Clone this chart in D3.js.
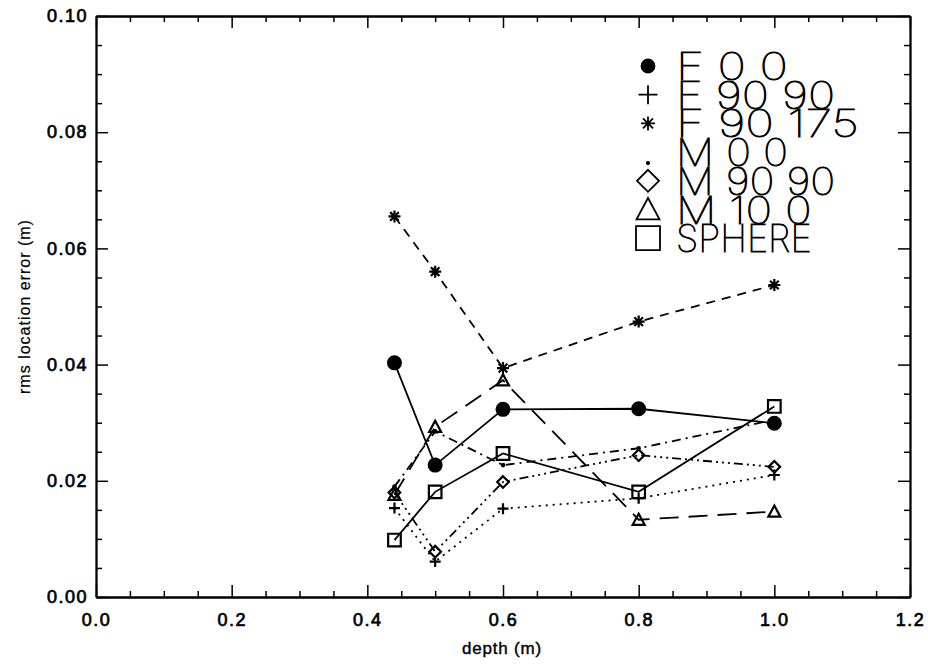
<!DOCTYPE html>
<html>
<head>
<meta charset="utf-8">
<script src="https://cdn.jsdelivr.net/npm/d3@7"></script>
<style>
  html, body { margin: 0; padding: 0; background: #fff; }
  svg { display: block; }
</style>
</head>
<body>
<svg id="chart" width="928" height="665"></svg>
<script>
// Source depths (m)
const depths = [0.44, 0.5, 0.6, 0.8, 1.0];

// Legend labels, one per series
const seriesLabels = ["F 0 0", "F 90 90", "F 90 175", "M 0 0", "M 90 90", "M 10 0", "SPHERE"];

// rms location error (m) for each series, by depth
const errF00    = [0.0403, 0.0227, 0.0323, 0.0324, 0.0299];
const errF9090  = [0.0153, 0.0061, 0.0152, 0.0170, 0.0210];
const errF90175 = [0.0655, 0.0560, 0.0394, 0.0474, 0.0537];
const errM00    = [0.0190, 0.0285, 0.0227, 0.0256, 0.0305];
const errM9090  = [0.0180, 0.0078, 0.0198, 0.0244, 0.0224];
const errM100   = [0.0176, 0.0293, 0.0373, 0.0133, 0.0147];
const errSphere = [0.0098, 0.0181, 0.0247, 0.0181, 0.0328];

// Axis ticks
const xTickValues = [0.0, 0.2, 0.4, 0.6, 0.8, 1.0, 1.2];
const xMinorValues = [0.05, 0.1, 0.15, 0.25, 0.3, 0.35, 0.45, 0.5, 0.55, 0.65, 0.7, 0.75, 0.85, 0.9, 0.95, 1.05, 1.1, 1.15];
const yTickValues = [0.00, 0.02, 0.04, 0.06, 0.08, 0.10];
const yMinorValues = [0.005, 0.01, 0.015, 0.025, 0.03, 0.035, 0.045, 0.05, 0.055, 0.065, 0.07, 0.075, 0.085, 0.09, 0.095];

const seriesValues = [errF00, errF9090, errF90175, errM00, errM9090, errM100, errSphere];

// Plot symbol and line style for each series (IDL-like psym / linestyle)
const markerTypes = ["circle", "plus", "asterisk", "dot", "diamond", "triangle", "square"];
const dashTypes = ["", "2 5", "9 7", "9 5 2 5", "9 4 2 4 2 4 2 4", "19 10", ""];

const W = 928, H = 665;
const plot = { left: 96, right: 910, top: 16, bottom: 597 };

const svg = d3.select("#chart");
svg.append("rect").attr("width", W).attr("height", H).attr("fill", "#fff");

const x = d3.scaleLinear().domain([0, 1.2]).range([plot.left, plot.right]);
const y = d3.scaleLinear().domain([0, 0.10]).range([plot.bottom, plot.top]);

const axisFont = "'Liberation Sans', Arial, Helvetica, sans-serif";

function styleAxis(g, labelled) {
  g.select(".domain").attr("stroke", "#000").attr("stroke-width", 1.8);
  g.selectAll(".tick line").attr("stroke", "#000").attr("stroke-width", 1.5);
  g.selectAll(".tick text")
    .attr("fill", "#000")
    .attr("stroke", labelled ? "#000" : "none")
    .attr("stroke-width", 0.7)
    .style("font-family", axisFont)
    .style("font-size", "18px")
    .style("letter-spacing", "1.5px");
}

// Minor ticks on all four sides (inward)
svg.append("g").attr("transform", `translate(0,${plot.bottom})`)
  .call(d3.axisBottom(x).tickValues(xMinorValues).tickSizeInner(-6).tickSizeOuter(0).tickFormat(""))
  .call(g => styleAxis(g, false));
svg.append("g").attr("transform", `translate(0,${plot.top})`)
  .call(d3.axisTop(x).tickValues(xMinorValues).tickSizeInner(-6).tickSizeOuter(0).tickFormat(""))
  .call(g => styleAxis(g, false));
svg.append("g").attr("transform", `translate(${plot.left},0)`)
  .call(d3.axisLeft(y).tickValues(yMinorValues).tickSizeInner(-6).tickSizeOuter(0).tickFormat(""))
  .call(g => styleAxis(g, false));
svg.append("g").attr("transform", `translate(${plot.right},0)`)
  .call(d3.axisRight(y).tickValues(yMinorValues).tickSizeInner(-6).tickSizeOuter(0).tickFormat(""))
  .call(g => styleAxis(g, false));

// Major ticks; labels on bottom and left only
svg.append("g").attr("transform", `translate(0,${plot.bottom})`)
  .call(d3.axisBottom(x).tickValues(xTickValues).tickSizeInner(-12).tickSizeOuter(0).tickPadding(16).tickFormat(d3.format(".1f")))
  .call(g => styleAxis(g, true));
svg.append("g").attr("transform", `translate(0,${plot.top})`)
  .call(d3.axisTop(x).tickValues(xTickValues).tickSizeInner(-12).tickSizeOuter(0).tickFormat(""))
  .call(g => styleAxis(g, false));
svg.append("g").attr("transform", `translate(${plot.left},0)`)
  .call(d3.axisLeft(y).tickValues(yTickValues).tickSizeInner(-12).tickSizeOuter(0).tickPadding(8).tickFormat(d3.format(".2f")))
  .call(g => styleAxis(g, true));
svg.append("g").attr("transform", `translate(${plot.right},0)`)
  .call(d3.axisRight(y).tickValues(yTickValues).tickSizeInner(-12).tickSizeOuter(0).tickFormat(""))
  .call(g => styleAxis(g, false));

// Axis titles
svg.append("text")
  .attr("x", 502).attr("y", 654)
  .attr("text-anchor", "middle")
  .style("font-family", axisFont).style("font-size", "17px")
  .style("letter-spacing", "0.8px")
  .attr("stroke", "#000").attr("stroke-width", 0.4)
  .text("depth (m)");

svg.append("text")
  .attr("transform", `translate(30,${(plot.top + plot.bottom) / 2}) rotate(-90)`)
  .attr("text-anchor", "middle")
  .style("font-family", axisFont).style("font-size", "16px")
  .style("letter-spacing", "1px")
  .attr("stroke", "#000").attr("stroke-width", 0.2)
  .text("rms location error (m)");

// Symbol shapes, centred on the origin
function markerPath(type, s) {
  const p = d3.path();
  switch (type) {
    case "plus":
      p.moveTo(-s, 0); p.lineTo(s, 0); p.moveTo(0, -s); p.lineTo(0, s); break;
    case "asterisk": {
      const d = s * 0.72;
      p.moveTo(-s, 0); p.lineTo(s, 0); p.moveTo(0, -s); p.lineTo(0, s);
      p.moveTo(-d, -d); p.lineTo(d, d); p.moveTo(-d, d); p.lineTo(d, -d); break;
    }
    case "diamond":
      p.moveTo(0, -s); p.lineTo(s, 0); p.lineTo(0, s); p.lineTo(-s, 0); p.closePath(); break;
    case "triangle":
      p.moveTo(0, -s); p.lineTo(s, s * 0.85); p.lineTo(-s, s * 0.85); p.closePath(); break;
    case "square":
      p.rect(-s, -s, 2 * s, 2 * s); break;
    case "dot":
      p.arc(0, 0, Math.max(1.2, s * 0.25), 0, 2 * Math.PI); break;
    case "circle":
    default:
      p.arc(0, 0, s, 0, 2 * Math.PI); break;
  }
  return p.toString();
}

function drawMarker(g, type, s, sw) {
  const filled = type === "circle" || type === "dot";
  g.append("path")
    .attr("d", markerPath(type, s))
    .attr("fill", filled ? "#000" : "none")
    .attr("stroke", "#000")
    .attr("stroke-width", sw)
    .attr("stroke-linejoin", "miter");
}

const dataSize = { circle: 6.4, plus: 5.5, asterisk: 6, dot: 4, diamond: 5.8, triangle: 6, square: 6.3 };

const line = d3.line().x(d => x(d.depth)).y(d => y(d.value));
const series = seriesLabels.map((label, i) => ({
  label,
  marker: markerTypes[i],
  dash: dashTypes[i],
  points: depths.map((d, j) => ({ depth: d, value: seriesValues[i][j] }))
}));

const plotG = svg.append("g");
series.forEach(s => {
  plotG.append("path")
    .datum(s.points)
    .attr("d", line)
    .attr("fill", "none")
    .attr("stroke", "#000")
    .attr("stroke-width", 1.8)
    .attr("stroke-dasharray", s.dash || null);
  s.points.forEach(pt => {
    const g = plotG.append("g").attr("transform", `translate(${x(pt.depth)},${y(pt.value)})`);
    drawMarker(g, s.marker, dataSize[s.marker], 2.2);
  });
});

// Legend: symbol followed by label, stacked in the upper right
const legendSize = { circle: 6.5, plus: 9.5, asterisk: 7, dot: 4, diamond: 11, triangle: 11.5, square: 12 };
const legend = svg.append("g");
const legendFont = "Inter, Lato, 'DejaVu Sans', sans-serif";
series.forEach((s, i) => {
  const base = 80 + i * 28.7;
  const g = legend.append("g").attr("transform", `translate(648,${s.marker === "dot" ? base - 3 : base - 14})`);
  drawMarker(g, s.marker, legendSize[s.marker], 1.8);
  legend.append("text")
    .attr("x", 676).attr("y", base)
    .attr("textLength", s.label.length * 23.6 - 6)
    .attr("lengthAdjust", "spacingAndGlyphs")
    .style("font-family", legendFont)
    .style("font-size", "38px")
    .style("font-weight", 100)
    .attr("fill", "#000")
    .attr("stroke", "#000")
    .attr("stroke-width", 0.9)
    .text(s.label);
});
</script>
</body>
</html>
